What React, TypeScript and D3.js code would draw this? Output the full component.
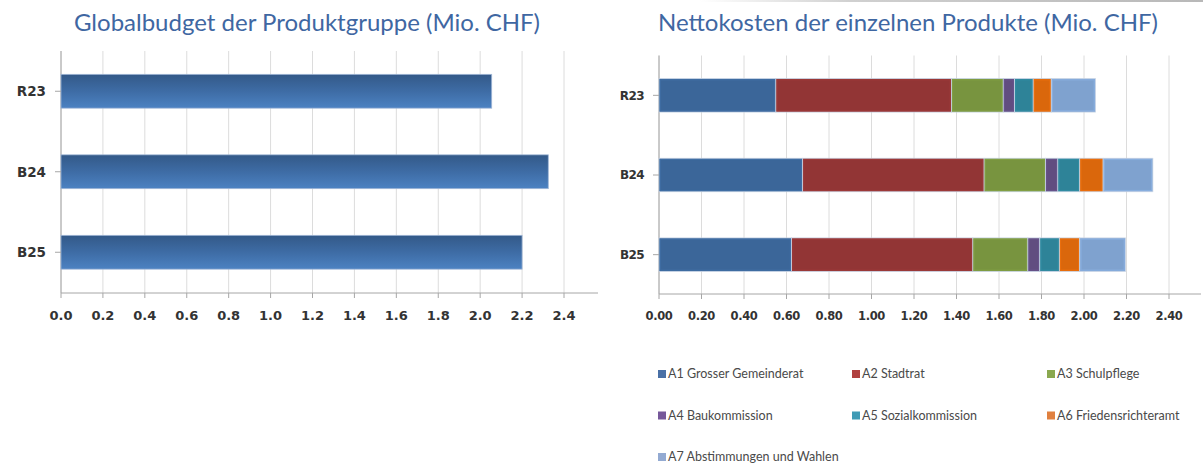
import React from "react";
import * as d3 from "d3";

const categories = ["R23", "B24", "B25"];
const globalbudget = [2.055, 2.325, 2.2];

const productNames = [
  "A1 Grosser Gemeinderat",
  "A2 Stadtrat",
  "A3 Schulpflege",
  "A4 Baukommission",
  "A5 Sozialkommission",
  "A6 Friedensrichteramt",
  "A7 Abstimmungen und Wahlen",
];
const a1 = [0.55, 0.676, 0.624];
const a2 = [0.826, 0.854, 0.853];
const a3 = [0.244, 0.289, 0.259];
const a4 = [0.053, 0.058, 0.056];
const a5 = [0.088, 0.103, 0.092];
const a6 = [0.085, 0.11, 0.096];
const a7 = [0.208, 0.234, 0.215];
const seriesValues = [a1, a2, a3, a4, a5, a6, a7];

const leftTicks = [0, 0.2, 0.4, 0.6, 0.8, 1.0, 1.2, 1.4, 1.6, 1.8, 2.0, 2.2, 2.4];
const rightTicks = [0, 0.2, 0.4, 0.6, 0.8, 1.0, 1.2, 1.4, 1.6, 1.8, 2.0, 2.2, 2.4];

const barColors = ["#3b6699", "#923535", "#78943f", "#614d80", "#2e8398", "#da670c", "#7fa2cf"];
const legendColors = ["#4a70a6", "#b0403f", "#8aa84f", "#76589a", "#3f9bb5", "#e0803f", "#93aad2"];

const W = 1203;
const H = 467;

const titleFont = "Lato, 'Open Sans', sans-serif";
const axisFont = "'DejaVu Sans', sans-serif";

export default function App() {
  const xL = d3.scaleLinear().domain([0, 2.4]).range([61, 564]);
  const xLEnd = 598;
  const yL = d3
    .scaleBand<string>()
    .domain(categories)
    .range([51, 292.5])
    .paddingInner(0.58)
    .paddingOuter(0.29);

  const xR = d3.scaleLinear().domain([0, 2.4]).range([659, 1169]);
  const xREnd = 1201;
  const yR = d3
    .scaleBand<string>()
    .domain(categories)
    .range([55.5, 294.5])
    .paddingInner(0.58)
    .paddingOuter(0.29);

  const stackData = categories.map((c, i) => {
    const row: any = { cat: c };
    productNames.forEach((p, k) => (row[p] = seriesValues[k][i]));
    return row;
  });
  const stacked = d3.stack<any>().keys(productNames)(stackData);

  const axisGray = "#a6a6a6";
  const gridGray = "#dcdcdc";
  const labelColor = "#333333";

  const legendCols = [660, 854, 1049];
  const legendRows = [374, 415.5, 457];

  return (
    <svg
      width={W}
      height={H}
      style={{ position: "absolute", left: 0, top: 0, background: "#fff" }}
    >
      <defs>
        <linearGradient id="barGrad" x1="0" y1="0" x2="0" y2="1">
          <stop offset="0" stopColor="#335988" />
          <stop offset="0.5" stopColor="#3e6ca5" />
          <stop offset="1" stopColor="#4c82c2" />
        </linearGradient>
        <linearGradient id="topLine" x1="0" y1="0" x2="1" y2="0">
          <stop offset="0" stopColor="#ffffff" />
          <stop offset="0.3" stopColor="#d0d0d0" />
          <stop offset="1" stopColor="#b8b8b8" />
        </linearGradient>
      </defs>
      <rect x={0} y={0} width={W} height={H} fill="#fff" />
      <rect x={700} y={0} width={503} height={2} fill="url(#topLine)" />

      <text
        x={307}
        y={31}
        textAnchor="middle"
        fontFamily={titleFont}
        fontSize={24}
        fontWeight={400}
        fill="#3f67a2"
      >
        Globalbudget der Produktgruppe (Mio. CHF)
      </text>
      <text
        x={908}
        y={31}
        textAnchor="middle"
        fontFamily={titleFont}
        fontSize={24}
        fontWeight={400}
        fill="#3f67a2"
      >
        Nettokosten der einzelnen Produkte (Mio. CHF)
      </text>

      <g>
        {leftTicks.map((t) => (
          <line
            key={"gl" + t}
            x1={xL(t)}
            x2={xL(t)}
            y1={yL.range()[0]}
            y2={293}
            stroke={gridGray}
            strokeWidth={1}
          />
        ))}
        {leftTicks.map((t) => (
          <line
            key={"tl" + t}
            x1={xL(t)}
            x2={xL(t)}
            y1={293}
            y2={298}
            stroke={axisGray}
          />
        ))}
        <line x1={xL(0)} x2={xL(0)} y1={yL.range()[0]} y2={293} stroke={axisGray} />
        <line x1={xL(0)} x2={xLEnd} y1={293} y2={293} stroke={axisGray} />
        {categories.map((c, i) => (
          <g key={"lb" + c}>
            <rect
              x={xL(0)}
              y={yL(c)!}
              width={xL(globalbudget[i]) - xL(0)}
              height={yL.bandwidth()}
              fill="url(#barGrad)"
              stroke="#9fb6d6"
              strokeWidth={0.8}
            />
            <line
              x1={xL(0) - 6}
              x2={xL(0)}
              y1={yL(c)! + yL.bandwidth() / 2}
              y2={yL(c)! + yL.bandwidth() / 2}
              stroke={axisGray}
            />
            <text
              x={xL(0) - 15}
              y={yL(c)! + yL.bandwidth() / 2}
              dy="0.36em"
              textAnchor="end"
              fontFamily={axisFont}
              fontWeight="bold"
              fontSize={13.5}
              fill={labelColor}
            >
              {c}
            </text>
          </g>
        ))}
        {leftTicks.map((t) => (
          <text
            key={"ll" + t}
            x={xL(t)}
            y={320}
            textAnchor="middle"
            fontFamily={axisFont}
            fontWeight="bold"
            fontSize={13}
            fill={labelColor}
          >
            {d3.format(".1f")(t)}
          </text>
        ))}
      </g>

      <g>
        {rightTicks.map((t) => (
          <line
            key={"gr" + t}
            x1={xR(t)}
            x2={xR(t)}
            y1={yR.range()[0]}
            y2={294}
            stroke={gridGray}
            strokeWidth={1}
          />
        ))}
        {rightTicks.map((t) => (
          <line
            key={"tr" + t}
            x1={xR(t)}
            x2={xR(t)}
            y1={294}
            y2={299}
            stroke={axisGray}
          />
        ))}
        <line x1={xR(0)} x2={xR(0)} y1={yR.range()[0]} y2={294} stroke={axisGray} />
        <line x1={xR(0)} x2={xREnd} y1={294} y2={294} stroke={axisGray} />
        {stacked.map((s, k) =>
          s.map((d, i) => {
            const c = categories[i];
            const x0 = xR(d[0]);
            const x1 = xR(d[1]);
            const fill = barColors[k];
            const st = d3.color(fill)!.brighter(0.35).formatHex();
            return (
              <g key={"seg" + k + "-" + i}>
                <rect
                  x={x0}
                  y={yR(c)!}
                  width={x1 - x0}
                  height={yR.bandwidth()}
                  fill={fill}
                  stroke="#c9d5e6"
                  strokeWidth={0.8}
                />
                <rect
                  x={x0 + 1.2}
                  y={yR(c)! + 1.2}
                  width={Math.max(0, x1 - x0 - 2.4)}
                  height={yR.bandwidth() - 2.4}
                  fill="none"
                  stroke={st}
                  strokeOpacity={0.55}
                  strokeWidth={1.2}
                />
              </g>
            );
          })
        )}
        {categories.map((c) => (
          <g key={"rc" + c}>
            <line
              x1={xR(0) - 6}
              x2={xR(0)}
              y1={yR(c)! + yR.bandwidth() / 2}
              y2={yR(c)! + yR.bandwidth() / 2}
              stroke={axisGray}
            />
            <text
              x={xR(0) - 15}
              y={yR(c)! + yR.bandwidth() / 2}
              dy="0.36em"
              textAnchor="end"
              fontFamily={axisFont}
              fontWeight="bold"
              fontSize={12}
              letterSpacing={-0.6}
              fill={labelColor}
            >
              {c}
            </text>
          </g>
        ))}
        {rightTicks.map((t) => (
          <text
            key={"rl" + t}
            x={xR(t)}
            y={320}
            textAnchor="middle"
            fontFamily={axisFont}
            fontWeight="bold"
            fontSize={11.5}
            letterSpacing={-0.4}
            fill={labelColor}
          >
            {d3.format(".2f")(t)}
          </text>
        ))}
      </g>

      {productNames.map((p, k) => {
        const col = k % 3;
        const row = Math.floor(k / 3);
        const x = legendCols[col];
        const y = legendRows[row];
        return (
          <g key={"lg" + k}>
            <rect x={x - 2} y={y - 4} width={8} height={8} fill={legendColors[k]} />
            <text
              x={x + 8}
              y={y}
              dy="0.35em"
              fontFamily={titleFont}
              fontSize={12.5}
              fill="#4a4a4a"
            >
              {p}
            </text>
          </g>
        );
      })}
    </svg>
  );
}
